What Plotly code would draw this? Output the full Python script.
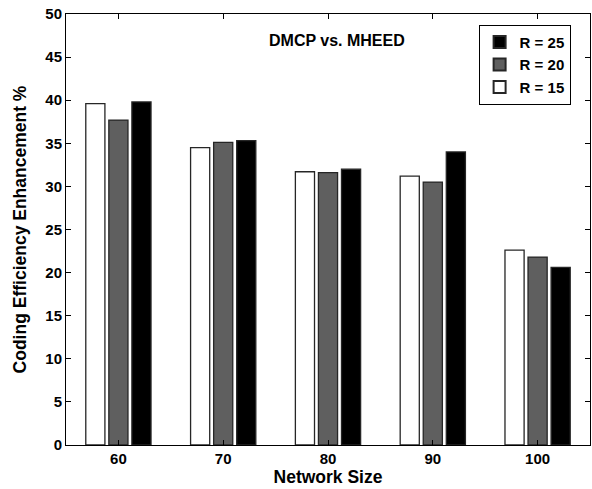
import plotly.graph_objects as go

network_sizes = ["60", "70", "80", "90", "100"]
r15 = [39.6, 34.5, 31.7, 31.2, 22.6]
r20 = [37.7, 35.1, 31.6, 30.5, 21.8]
r25 = [39.8, 35.3, 32.0, 34.0, 20.6]
series_names = ["R = 15", "R = 20", "R = 25"]
y_ticks = [0, 5, 10, 15, 20, 25, 30, 35, 40, 45, 50]

FONT = "Liberation Sans, Arial, Helvetica, sans-serif"
fills = ["#ffffff", "#5f5f5f", "#000000"]

fig = go.Figure()
for name, vals, col in zip(series_names, [r15, r20, r25], fills):
    fig.add_trace(go.Bar(
        x=network_sizes, y=vals, name=name,
        marker=dict(color=col, line=dict(color="#262626", width=1.3)),
    ))

fig.update_layout(
    width=592, height=489,
    margin=dict(l=66, r=2, t=14, b=44),
    paper_bgcolor="white", plot_bgcolor="white",
    barmode="group", bargap=0.34, bargroupgap=0.17,
    font=dict(family=FONT, color="black"),
    showlegend=True,
    legend=dict(
        traceorder="reversed",
        x=0.963, y=0.975, xanchor="right", yanchor="top",
        bordercolor="black", borderwidth=1, bgcolor="white",
        font=dict(family=FONT, size=15, color="black", weight="bold"),
        itemsizing="constant",
    ),
    annotations=[dict(
        text="<b>DMCP vs. MHEED</b>", xref="paper", yref="paper",
        x=(337 - 66) / 524, y=(445 - 41) / 431, xanchor="center", yanchor="middle",
        showarrow=False, font=dict(family=FONT, size=16, color="black"),
    )],
)

fig.update_xaxes(
    title=dict(text="<b>Network Size</b>", font=dict(family=FONT, size=17.5), standoff=4),
    tickfont=dict(family=FONT, size=15, weight="bold"),
    showline=True, linecolor="black", linewidth=1, mirror="ticks",
    ticks="inside", ticklen=5, tickcolor="black",
    showgrid=False, range=[-0.5, 4.5],
)
fig.update_yaxes(
    title=dict(text="<b>Coding Efficiency Enhancement %</b>", font=dict(family=FONT, size=17.5), standoff=14),
    tickfont=dict(family=FONT, size=15, weight="bold"),
    tickvals=y_ticks,
    range=[0, 50],
    showline=True, linecolor="black", linewidth=1, mirror="ticks",
    ticks="inside", ticklen=5, tickcolor="black",
    showgrid=False, zeroline=False,
)

fig.write_html("out.html", config={"displayModeBar": False},
               post_script="document.body.style.margin='0';")
